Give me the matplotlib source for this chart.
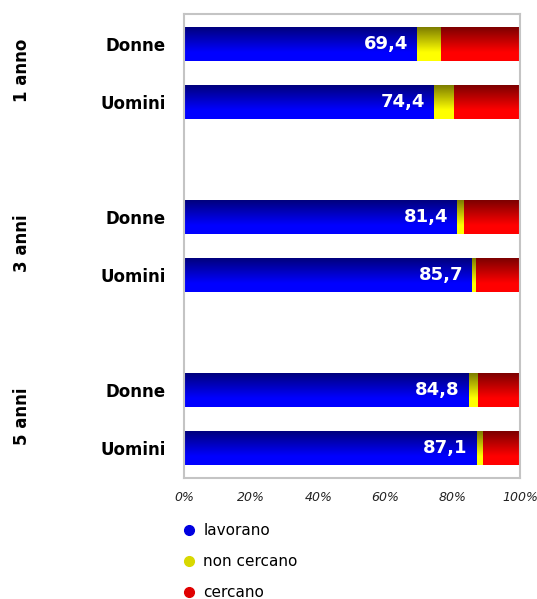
import numpy as np
import matplotlib
matplotlib.use('Agg')
import matplotlib.pyplot as plt
import matplotlib.transforms as mtransforms
from matplotlib.colors import LinearSegmentedColormap
from matplotlib.lines import Line2D

# data
groups = ['1 anno', '3 anni', '5 anni']
sexes = ['Donne', 'Uomini']
lavorano = [69.4, 74.4, 81.4, 85.7, 84.8, 87.1]
non_cercano = [7.0, 5.9, 1.9, 1.2, 2.7, 1.9]
cercano = [round(100 - a - b, 1) for a, b in zip(lavorano, non_cercano)]
series_names = ['lavorano', 'non cercano', 'cercano']

# (dark top, bright bottom) for each series
GRADS = [('#000078', '#0000ff'), ('#787800', '#ffff00'), ('#780000', '#ff0000')]
LEGEND_COLOURS = ['#0000e0', '#d8d800', '#e00000']

positions = [0, 1, 3, 4, 6, 7]
BAR_H = 0.59


def gradient_fill(ax, bars, dark, bright):
    cmap = LinearSegmentedColormap.from_list('g', [(0, dark), (0.75, bright), (1, bright)])
    grad = np.linspace(0, 1, 64).reshape(-1, 1)
    for bar in bars:
        x0, y0 = bar.get_x(), bar.get_y()
        w, h = bar.get_width(), bar.get_height()
        bar.set_facecolor('none')
        bar.set_edgecolor('none')
        # inverted y axis: top of bar is y0 (smaller value)
        im = ax.imshow(grad, cmap=cmap, aspect='auto', interpolation='bilinear',
                       extent=(x0, x0 + w, y0 + h, y0), zorder=2)
        im.set_clip_path(bar)


fig = plt.figure(figsize=(5.37, 5.99), dpi=100)
ax = fig.add_axes([0.3426, 0.2020, 0.6257, 0.7746])

left = np.zeros(len(positions))
for vals, (dark, bright) in zip([lavorano, non_cercano, cercano], GRADS):
    bars = ax.barh(positions, vals, left=left, height=BAR_H, zorder=2)
    gradient_fill(ax, bars, dark, bright)
    left = left + np.array(vals)

ax.set_xlim(0, 100)
ax.set_ylim(7.52, -0.52)

# value labels inside the blue part
for p, v in zip(positions, lavorano):
    ax.annotate(f'{v:.1f}'.replace('.', ','), xy=(v, p), xytext=(-6.5, 0),
                textcoords='offset points', ha='right', va='center',
                color='white', fontsize=13, fontweight='bold', zorder=3)

ax.set_xticks([0, 20, 40, 60, 80, 100])
ax.set_xticklabels(['0%', '20%', '40%', '60%', '80%', '100%'],
                   fontsize=9, fontstyle='italic', color='#222222')
ax.set_yticks(positions)
ax.set_yticklabels(sexes * 3, fontsize=12, fontweight='bold')
ax.tick_params(axis='both', length=0)
ax.tick_params(axis='y', pad=13)
ax.tick_params(axis='x', pad=9)

for s in ax.spines.values():
    s.set_color('#c4c4c4')
    s.set_linewidth(1.5)

# group labels, rotated on the far left
trans = mtransforms.blended_transform_factory(ax.transAxes, ax.transData)
for i, g in enumerate(groups):
    ax.text(-0.482, positions[2 * i] + 0.45, g, transform=trans, rotation=90,
            ha='center', va='center', fontsize=12, fontweight='bold')

handles = [Line2D([], [], marker='o', linestyle='none', markersize=7,
                  markerfacecolor=c, markeredgecolor=c) for c in LEGEND_COLOURS]
fig.legend(handles, series_names, loc='upper left', bbox_to_anchor=(0.33, 0.137),
           frameon=False, fontsize=11, handlelength=0.8, handletextpad=0.5,
           labelspacing=1.05, borderaxespad=0)

fig.savefig('out.png', dpi=100)
